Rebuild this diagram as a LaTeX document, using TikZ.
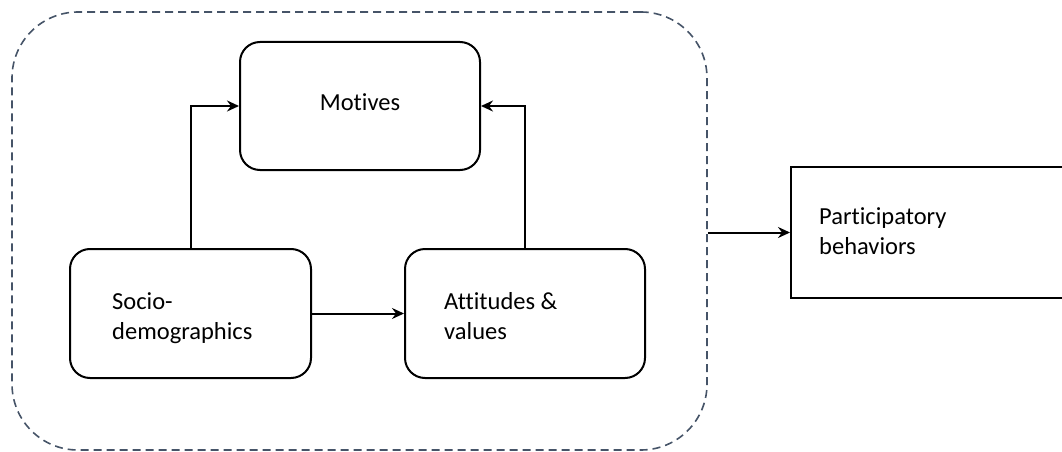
\documentclass[tikz,border=0pt]{standalone}
\usepackage{fontspec}
\setmainfont{Carlito}[Ligatures=NoCommon]
\usetikzlibrary{arrows.meta}
\definecolor{frameblue}{RGB}{70,84,104}
\begin{document}
\begin{tikzpicture}[x=1pt,y=-1pt,
  box/.style={draw=black, line width=2pt, rounded corners=20pt, inner sep=0pt},
  plainbox/.style={draw=black, line width=2pt, inner sep=0pt},
  lbl/.style={font=\fontsize{24.5}{30}\selectfont, inner sep=0pt, align=left},
  link/.style={draw=black, line width=2pt, -{Stealth[length=12pt,width=11pt,inset=4pt]}},
  group/.style={draw=frameblue, line width=1.6pt, dash pattern=on 8pt off 5pt,
                rounded corners=66pt, inner sep=0pt}]
\useasboundingbox (0,0) rectangle (1062,452);
\clip (0,0) rectangle (1062,452);

% dashed grouping frame
\node[group, minimum width=695pt, minimum height=438pt] (grp) at (359.5,231) {};

% boxes
\node[box, lbl, minimum width=240pt, minimum height=128pt,
      text height=15pt, text depth=6pt] (motives) at (360,106) {Motives};
\node[box, minimum width=241pt, minimum height=129pt] (socio) at (190.5,313.5) {};
\node[box, minimum width=240pt, minimum height=129pt] (att) at (525,313.5) {};
\node[plainbox, minimum width=289pt, minimum height=131pt] (part) at (935.5,232.5) {};

% box texts
\node[lbl, anchor=north west] (sociotext) at (112,292) {Socio-\\demographics};
\node[lbl, anchor=north west] (atttext) at (444,292) {Attitudes \&\\values};
\node[lbl, anchor=north west] (parttext) at (819,207) {Participatory\\behaviors};

% connectors
\draw[link] (socio.north) |- (motives.west);
\draw[link] (att.north) |- (motives.east);
\draw[link] (socio) -- (att);
\draw[link] (part.west -| grp.east) -- (part.west);
\end{tikzpicture}
\end{document}
